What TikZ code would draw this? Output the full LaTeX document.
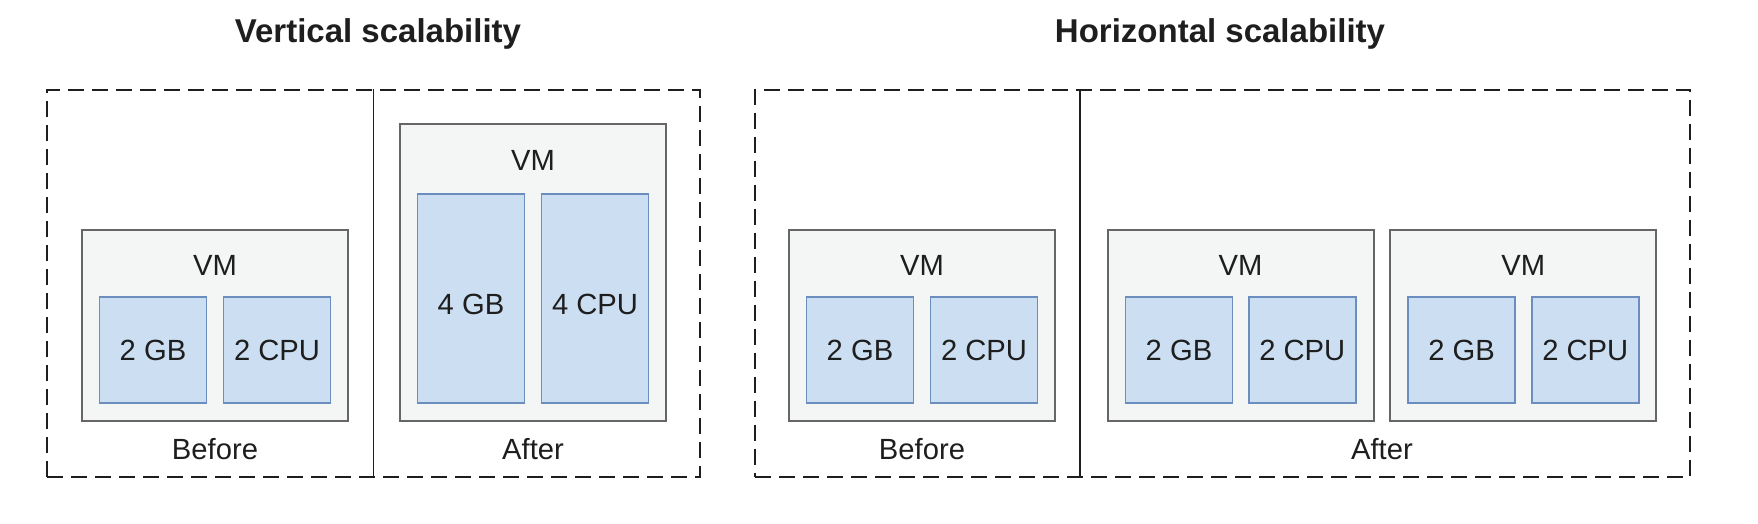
\documentclass[tikz,border=0pt]{standalone}
\usepackage{fontspec}
\setmainfont{Liberation Sans}
\usepackage{xcolor}
\usetikzlibrary{positioning,calc}

\definecolor{vmfill}{HTML}{F4F6F5}
\definecolor{vmline}{HTML}{666666}
\definecolor{resfill}{HTML}{CCDFF2}
\definecolor{resline}{HTML}{6C8EBF}
\definecolor{ink}{HTML}{1E1E1E}

\begin{document}
\begin{tikzpicture}[x=0.5pt, y=-0.5pt,
            region/.style={draw=ink, line width=1pt, dash pattern=on 8pt off 4pt, rectangle,
                 minimum height=193.5pt, inner sep=0pt},
            vm/.style={draw=vmline, fill=vmfill, line width=1pt, rectangle, minimum width=133pt, inner sep=0pt},
            res/.style={draw=resline, fill=resfill, line width=0.9pt, rectangle, minimum width=53.5pt,
                 minimum height=53pt, inner sep=0pt, align=center, text=ink, font=\fontsize{14.6}{17}\selectfont},
            tall/.style={res, minimum height=104.5pt, text height=15.5pt},
            txt/.style={text=ink, font=\fontsize{14.6}{17}\selectfont, inner sep=0pt, anchor=base},
            title/.style={txt, font=\bfseries\fontsize{16.5}{20}\selectfont},
            divider/.style={draw=ink, line width=0.8pt}
            ]
            \useasboundingbox (0,0) rectangle (1758,524);

            % Titles
            \node[title] (ttlV) at (378,43) {Vertical scalability};
            \node[title] (ttlH) at (1220,43) {Horizontal scalability};

            % Dashed regions
            \node[region, minimum width=326.5pt] (regV) at (373.5,283.5) {};
            \node[region, minimum width=467.5pt] (regH) at (1222.5,283.5) {};
            \coordinate (cutH) at (1080,90);

            % Vertical: before / after
            \node[vm, minimum height=95.5pt] (vmVB) at (215,325.5) {};
            \node[res] (gbVB) at (153,350.3) {2 GB};
            \node[res] (cpuVB) at (277,350.3) {2 CPU};
            \node[vm, minimum height=148.5pt] (vmVA) at (533,272.5) {};
            \node[tall] (gbVA) at (471,298.8) {4 GB};
            \node[tall] (cpuVA) at (595,298.8) {4 CPU};

            % Horizontal: before / after
            \node[vm, minimum height=95.5pt] (vmHB) at (922,325.5) {};
            \node[res] (gbHB) at (860,350.3) {2 GB};
            \node[res] (cpuHB) at (984,350.3) {2 CPU};
            \node[vm, minimum height=95.5pt] (vmHA1) at (1240.5,325.5) {};
            \node[res] (gbHA1) at (1179,350.3) {2 GB};
            \node[res] (cpuHA1) at (1302.3,350.3) {2 CPU};
            \node[vm, minimum height=95.5pt] (vmHA2) at (1523.3,325.5) {};
            \node[res] (gbHA2) at (1461.6,350.3) {2 GB};
            \node[res] (cpuHA2) at (1585.3,350.3) {2 CPU};

            % VM labels
            \node[txt] (lblVB) at ([yshift=-23.5pt]vmVB.north) {VM};
            \node[txt] (lblVA) at ([yshift=-23.5pt]vmVA.north) {VM};
            \node[txt] (lblHB) at ([yshift=-23.5pt]vmHB.north) {VM};
            \node[txt] (lblHA1) at ([yshift=-23.5pt]vmHA1.north) {VM};
            \node[txt] (lblHA2) at ([yshift=-23.5pt]vmHA2.north) {VM};

            % Captions
            \node[txt] (capVB) at ([yshift=-18.5pt]vmVB.south) {Before};
            \node[txt] (capVA) at ([yshift=-18.5pt]vmVA.south) {After};
            \node[txt] (capHB) at ([yshift=-18.5pt]vmHB.south) {Before};
            \node[txt] (capHA) at ([yshift=-18.5pt]$(vmHA1.south)!0.5!(vmHA2.south)$) {After};

            % Dividers
            \draw[divider] (regV.north) -- (regV.south);
            \draw[divider] (cutH) -- (cutH |- regH.south);
        \end{tikzpicture}
\end{document}
